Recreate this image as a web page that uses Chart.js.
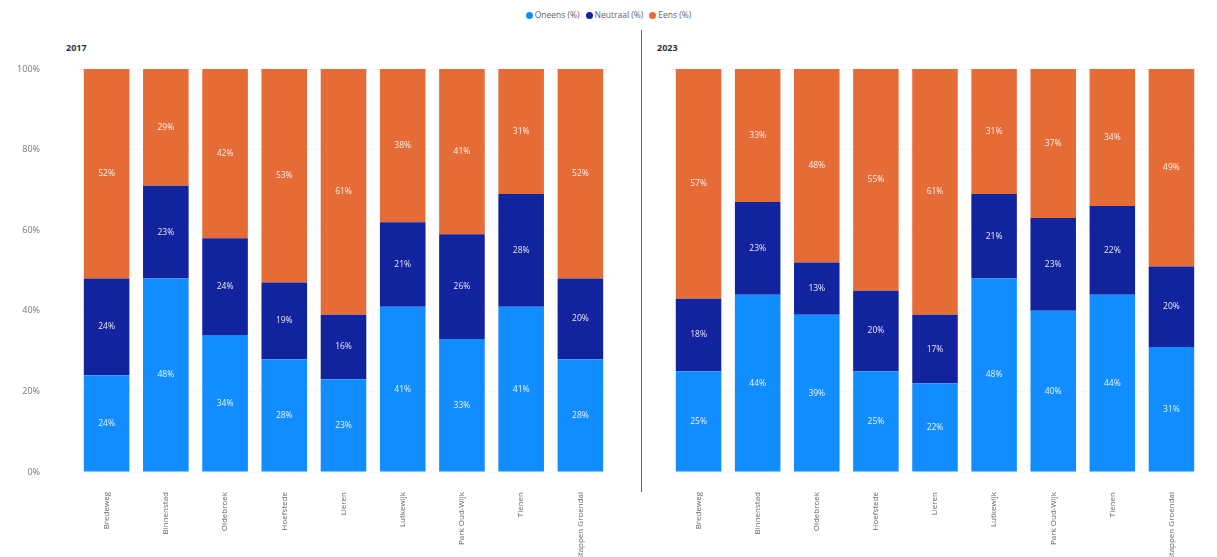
<!DOCTYPE html>
<html>
<head>
<meta charset="utf-8">
<script src="https://cdn.jsdelivr.net/npm/chart.js@4.4.0/dist/chart.umd.min.js"></script>
<style>
  body { margin: 0; width: 1217px; height: 557px; overflow: hidden; background: #fff; font-family: "Open Sans", sans-serif; }
  #leftBox { position: absolute; left: 0; top: 0; width: 632px; height: 557px; }
  #rightBox { position: absolute; left: 632px; top: 0; width: 585px; height: 557px; }
  .title { position: absolute; top: 41px; font-size: 9px; font-weight: bold; color: #333; }
  #divider { position: absolute; left: 641px; top: 30px; width: 1px; height: 462px; background: #666; }
  #legend { position: absolute; top: 9px; left: 0; width: 1217px; text-align: center; font-size: 8.5px; color: #666; }
  #legend span.item { margin: 0 3px; white-space: nowrap; }
  #legend span.dot { display: inline-block; width: 7px; height: 7px; border-radius: 50%; margin-right: 2px; vertical-align: -1px; }
</style>
</head>
<body>
<div id="legend"></div>
<div class="title" style="left:66px">2017</div>
<div class="title" style="left:657px">2023</div>
<div id="divider"></div>
<div id="leftBox"><canvas id="chart2017" width="632" height="557"></canvas></div>
<div id="rightBox"><canvas id="chart2023" width="585" height="557"></canvas></div>

<script>
// categories (neighbourhoods)
const categories = ["Bredeweg", "Binnenstad", "Oldebroek", "Hoefstede", "Lieren", "Lutkewijk", "Park Oud-Wijk", "Tienen", "Stappen Groendal"];

// series labels + colours
const seriesNames = ["Oneens (%)", "Neutraal (%)", "Eens (%)"];
const seriesColors = ["#118DFF", "#12239E", "#E66C37"];

// 2017
const oneens2017 = [24, 48, 34, 28, 23, 41, 33, 41, 28];
const neutraal2017 = [24, 23, 24, 19, 16, 21, 26, 28, 20];
const eens2017 = [52, 29, 42, 53, 61, 38, 41, 31, 52];

// 2023
const oneens2023 = [25, 44, 39, 25, 22, 48, 40, 44, 31];
const neutraal2023 = [18, 23, 13, 20, 17, 21, 23, 22, 20];
const eens2023 = [57, 33, 48, 55, 61, 31, 37, 34, 49];

const yTicks = [0, 20, 40, 60, 80, 100];

// legend
const legendEl = document.getElementById("legend");
seriesNames.forEach(function(name, i) {
  legendEl.innerHTML += '<span class="item"><span class="dot" style="background:' + seriesColors[i] + '"></span>' + name + '</span>';
});

// draws the % value in the middle of every segment
const segmentLabels = {
  id: "segmentLabels",
  afterDatasetsDraw: function(chart) {
    const ctx = chart.ctx;
    ctx.save();
    ctx.font = '8.5px "Open Sans", sans-serif';
    ctx.textAlign = "center";
    ctx.textBaseline = "middle";
    ctx.fillStyle = "rgba(255,255,255,0.9)";
    chart.data.datasets.forEach(function(ds, di) {
      const meta = chart.getDatasetMeta(di);
      meta.data.forEach(function(bar, i) {
        const p = bar.getProps(["x", "y", "base"], true);
        ctx.fillText(ds.data[i] + "%", p.x, (p.y + p.base) / 2);
      });
    });
    ctx.restore();
  }
};

function makeChart(id, values, showYLabels, yWidth, padRight) {
  return new Chart(document.getElementById(id), {
    type: "bar",
    data: {
      labels: categories,
      datasets: values.map(function(v, i) {
        return {
          label: seriesNames[i],
          data: v,
          backgroundColor: seriesColors[i],
          borderWidth: 0,
          categoryPercentage: 1,
          barPercentage: 0.77
        };
      })
    },
    options: {
      responsive: false,
      animation: false,
      layout: { padding: { top: 69, right: padRight, left: 0, bottom: 0 } },
      plugins: { legend: { display: false }, tooltip: { enabled: false } },
      scales: {
        x: {
          stacked: true,
          grid: { display: false },
          border: { display: false },
          ticks: {
            maxRotation: 90, minRotation: 90, padding: 12,
            color: "#666", font: { size: 8, family: '"Open Sans", sans-serif' }
          },
          afterFit: function(scale) { scale.height = 85; }
        },
        y: {
          stacked: true,
          min: 0, max: 100,
          grid: { color: "#ececec", drawTicks: false },
          border: { display: false, dash: [1, 2] },
          ticks: {
            display: showYLabels,
            stepSize: 20, padding: 37,
            color: "#777", font: { size: 9, family: '"Open Sans", sans-serif' },
            callback: function(v) { return yTicks.indexOf(v) >= 0 ? v + "%" : ""; }
          },
          afterFit: function(scale) { scale.width = yWidth; }
        }
      }
    },
    plugins: [segmentLabels]
  });
}

makeChart("chart2017", [oneens2017, neutraal2017, eens2017], true, 77, 22);
makeChart("chart2023", [oneens2023, neutraal2023, eens2023], false, 37, 16);
</script>
</body>
</html>
